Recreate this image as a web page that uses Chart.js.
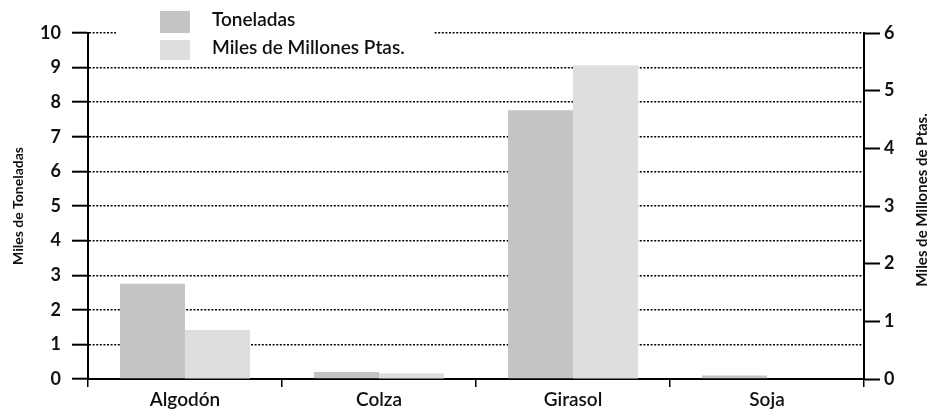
<!DOCTYPE html>
<html>
<head>
<meta charset="utf-8">
<script src="https://cdn.jsdelivr.net/npm/chart.js@4/dist/chart.umd.min.js"></script>
<style>
  html, body { margin: 0; padding: 0; background: #fff; }
  #wrap { width: 932px; height: 416px; }
</style>
</head>
<body>
<div id="wrap"><canvas id="c"></canvas></div>
<script>
const categories = ['Algodón', 'Colza', 'Girasol', 'Soja'];
const toneladas = [2.75, 0.2, 7.77, 0.1];   // miles de toneladas (left axis)
const pesetas = [0.85, 0.1, 5.44, 0];       // miles de millones ptas. (right axis)
const leftTicks = [0, 1, 2, 3, 4, 5, 6, 7, 8, 9, 10];
const rightTicks = [0, 1, 2, 3, 4, 5, 6];
const rightTitle = 'Miles de Millones de Ptas.';

const FONT = 'Lato, "Open Sans", sans-serif';

// legend sits inside the plot, on a white patch over the top gridline
const legendBox = {
  id: 'legendBox',
  afterDatasetsDraw(chart) {
    const ctx = chart.ctx;
    ctx.save();
    ctx.fillStyle = '#fff';
    ctx.fillRect(116, 0, 318, 62);
    const rows = [[11, 22, 20], [40, 20, 48]];
    chart.data.datasets.forEach((ds, i) => {
      const [by, bh, ty] = rows[i];
      ctx.fillStyle = ds.backgroundColor;
      ctx.fillRect(160, by, 30, bh);
      ctx.fillStyle = '#111';
      ctx.font = '600 19px ' + FONT;
      ctx.textBaseline = 'middle';
      ctx.fillText(ds.label, 212, ty);
    });
    ctx.restore();
  }
};

// right title reads bottom-to-top in the original, which scale titles can't do
const rightAxisTitle = {
  id: 'rightAxisTitle',
  afterDraw(chart) {
    const ctx = chart.ctx;
    const area = chart.chartArea;
    ctx.save();
    ctx.translate(922, (area.top + area.bottom) / 2 - 6);
    ctx.rotate(-Math.PI / 2);
    ctx.fillStyle = '#111';
    ctx.font = '700 15px ' + FONT;
    ctx.textAlign = 'center';
    ctx.textBaseline = 'middle';
    ctx.fillText(rightTitle, 0, 0);
    ctx.restore();
  }
};

new Chart(document.getElementById('c'), {
  type: 'bar',
  data: {
    labels: categories,
    datasets: [
      { label: 'Toneladas', data: toneladas, yAxisID: 'y', backgroundColor: '#c4c4c4' },
      { label: 'Miles de Millones Ptas.', data: pesetas, yAxisID: 'y1', backgroundColor: '#dedede' }
    ]
  },
  options: {
    responsive: true,
    maintainAspectRatio: false,
    animation: false,
    categoryPercentage: 0.67,
    barPercentage: 1.0,
    layout: { padding: { top: 33, left: 0, right: 0, bottom: 0 } },
    plugins: { legend: { display: false }, tooltip: { enabled: false } },
    scales: {
      x: {
        afterFit: s => { s.height = 37; },
        grid: { offset: true, drawOnChartArea: false, drawTicks: true, tickLength: 8, color: '#000', lineWidth: 1.5 },
        border: { color: '#000', width: 2 },
        ticks: { color: '#111', padding: 1, font: { family: FONT, size: 19, weight: '600' } }
      },
      y: {
        position: 'left',
        min: 0, max: 10,
        afterFit: s => { s.width = 88; },
        afterBuildTicks: s => { s.ticks = leftTicks.map(v => ({ value: v })); },
        grid: { color: '#000', lineWidth: 1.4, tickLength: 16, tickColor: '#000', tickWidth: 2, tickBorderDash: [] },
        border: { color: '#000', width: 2, dash: [2, 1.6] },
        ticks: { color: '#111', padding: 11, font: { family: FONT, size: 18, weight: '700' } },
        title: { display: true, text: 'Miles de Toneladas', color: '#111', padding: { top: 10 }, font: { family: FONT, size: 14, weight: '700' } }
      },
      y1: {
        position: 'right',
        min: 0, max: 6,
        afterFit: s => { s.width = 68; },
        afterBuildTicks: s => { s.ticks = rightTicks.map(v => ({ value: v })); },
        grid: { drawOnChartArea: false, tickLength: 16, tickColor: '#000', tickWidth: 2 },
        border: { color: '#000', width: 2 },
        ticks: { color: '#111', padding: 4, font: { family: FONT, size: 18, weight: '700' } }
      }
    }
  },
  plugins: [legendBox, rightAxisTitle]
});
</script>
</body>
</html>
